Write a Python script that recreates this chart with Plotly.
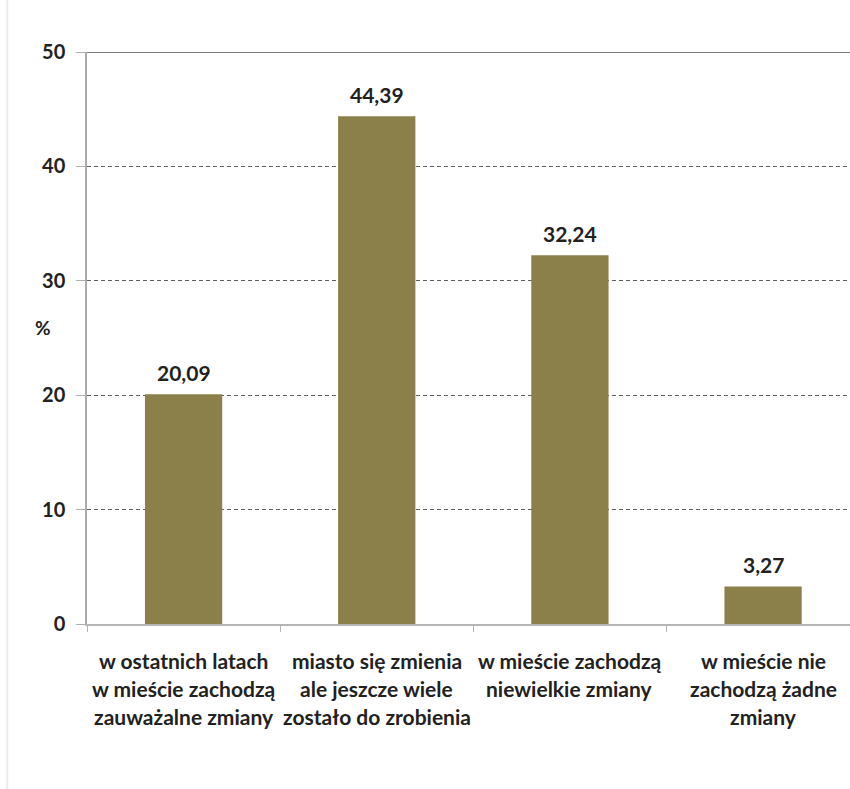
import plotly.graph_objects as go

# Survey answers (category label lines) and their shares in percent
categories = ["c1", "c2", "c3", "c4"]
label_lines = [
    ["w ostatnich latach", "w mieście zachodzą", "zauważalne zmiany"],
    ["miasto się zmienia", "ale jeszcze wiele", "zostało do zrobienia"],
    ["w mieście zachodzą", "niewielkie zmiany"],
    ["w mieście nie", "zachodzą żadne", "zmiany"],
]
values = [20.09, 44.39, 32.24, 3.27]
y_ticks = [0, 10, 20, 30, 40, 50]

BAR = "#8b7f4a"
TXT = "#222222"
FONT = "Lato"

fig = go.Figure()
fig.add_trace(go.Bar(
    x=categories, y=values, width=0.4,
    marker=dict(color=BAR, line=dict(width=0)),
    hoverinfo="skip",
))

annotations = []
# value labels above bars
for c, v in zip(categories, values):
    annotations.append(dict(
        x=c, y=v, xref="x", yref="y", text=f"{v:.2f}".replace(".", ","),
        showarrow=False, yanchor="middle", yshift=22,
        font=dict(family=FONT, size=21, color=TXT, weight="bold"),
    ))
# multi-line category labels under the axis
for c, lines in zip(categories, label_lines):
    for i, line in enumerate(lines):
        annotations.append(dict(
            x=c, y=0, xref="x", yref="paper", text=line,
            showarrow=False, yanchor="middle", yshift=-(36 + 28 * i),
            font=dict(family=FONT, size=21, color=TXT, weight="bold"),
        ))
# y axis unit
annotations.append(dict(
    x=-0.071, y=25.9, xref="paper", yref="y", text="%",
    showarrow=False, font=dict(family=FONT, size=19, color=TXT, weight="bold"),
))

shapes = [
    # solid top border at 50
    dict(type="line", xref="paper", yref="y", x0=0, x1=1, y0=50, y1=50,
         line=dict(color="#7a7a7a", width=2), layer="above"),
    # faint frame on the left
    dict(type="line", xref="paper", yref="paper", x0=-0.1045, x1=-0.1045,
         y0=-1, y1=2, line=dict(color="#ebebeb", width=2)),
]

fig.update_layout(
    width=850, height=789,
    margin=dict(l=87, r=0, t=52, b=165),
    paper_bgcolor="white", plot_bgcolor="white",
    showlegend=False,
    annotations=annotations,
    shapes=shapes,
    xaxis=dict(
        range=[-0.5, 3.45],
        showticklabels=False,
        showline=True, linecolor="#b5b5b5", linewidth=2,
        ticks="outside", tickson="boundaries", ticklen=6,
        tickcolor="#b5b5b5", tickwidth=1,
        showgrid=False, zeroline=False, fixedrange=True,
    ),
    yaxis=dict(
        range=[0, 50], tickvals=y_ticks,
        showline=True, linecolor="#ababab", linewidth=1.5,
        ticks="outside", ticklen=9, tickcolor="#b0b0b0", tickwidth=1,
        ticklabelstandoff=7,
        tickfont=dict(family=FONT, size=20, color=TXT, weight="bold"),
        showgrid=True, gridcolor="#5e5e5e", gridwidth=1, griddash="4px,3px",
        zeroline=False, fixedrange=True,
    ),
)

fig.write_html("out.html")
